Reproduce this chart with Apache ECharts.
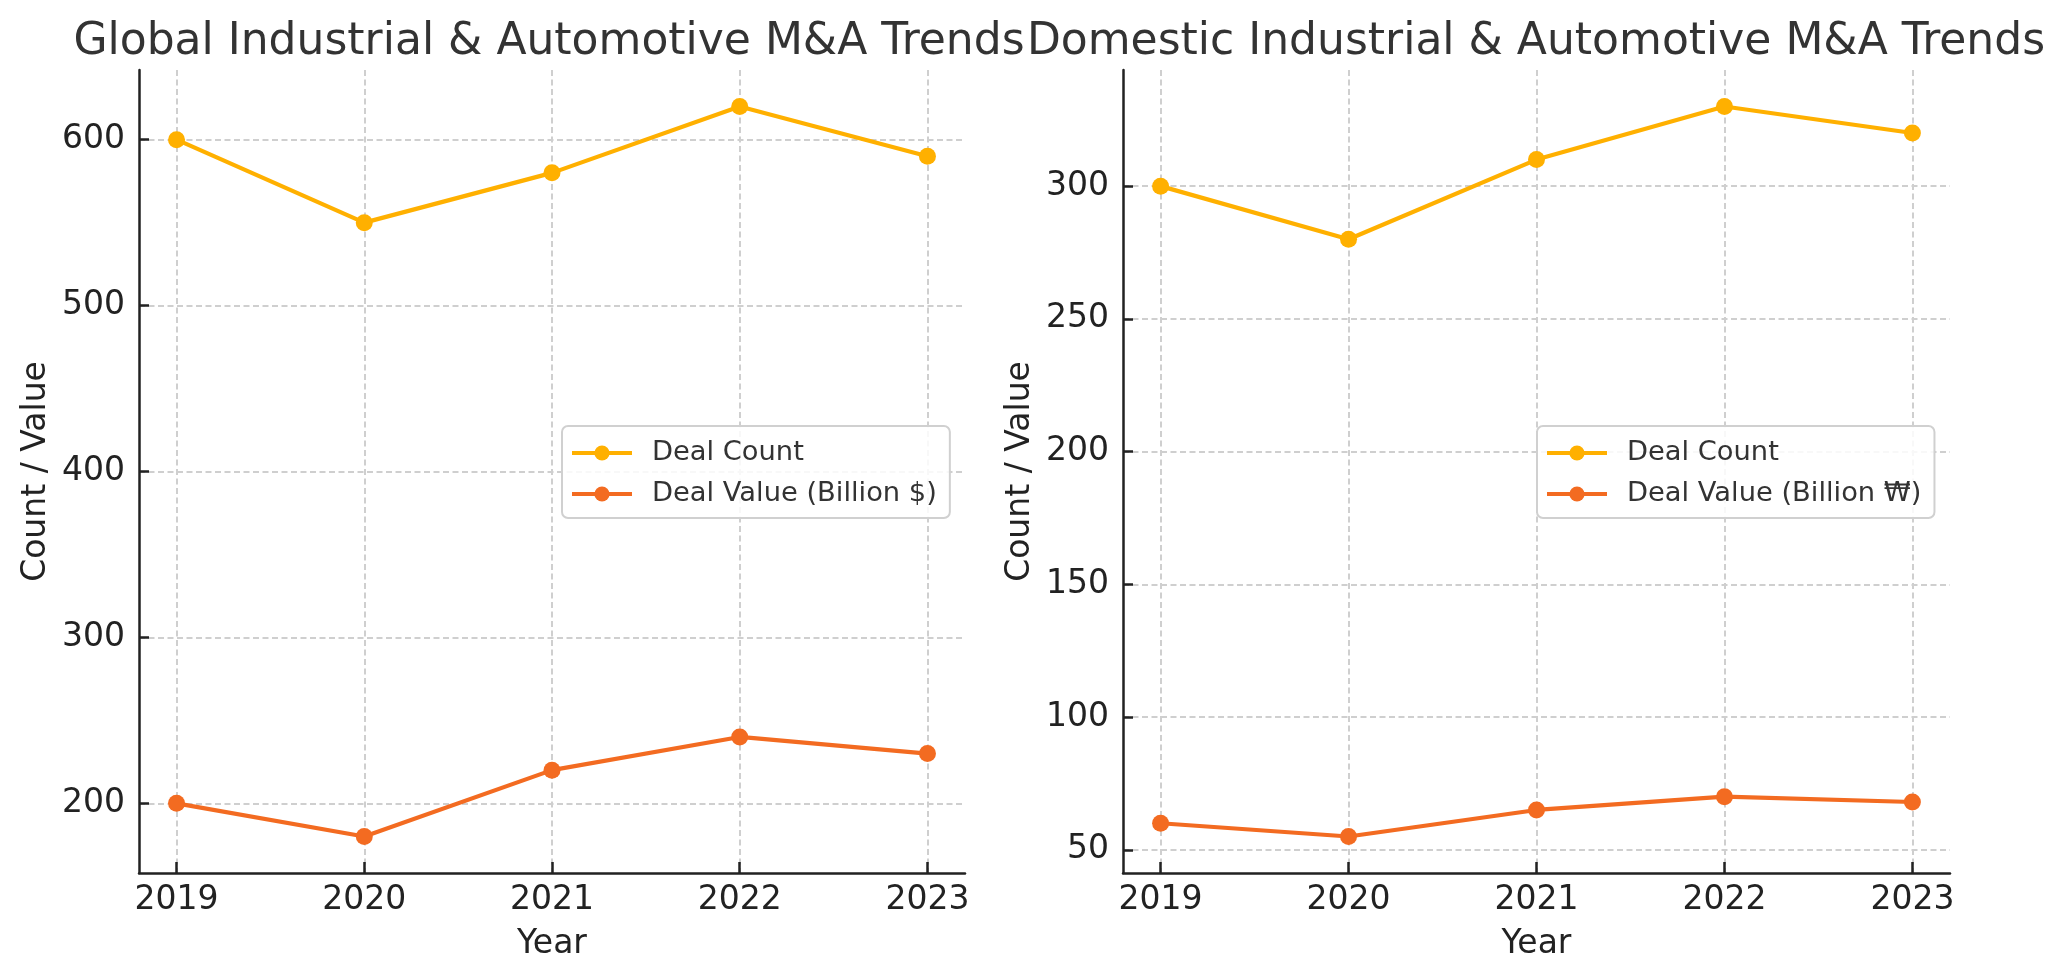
<!DOCTYPE html>
<html>
<head>
<meta charset="utf-8">
<script src="https://cdn.jsdelivr.net/npm/echarts@6/dist/echarts.min.js"></script>
<style>
html,body{margin:0;padding:0;background:#fff;}
#chart{width:2070px;height:980px;}
</style>
</head>
<body>
<div id="chart"></div>
<script>
const years = [2019, 2020, 2021, 2022, 2023];
const globalDealCount = [600, 550, 580, 620, 590];
const globalDealValue = [200, 180, 220, 240, 230];
const domesticDealCount = [300, 280, 310, 330, 320];
const domesticDealValue = [60, 55, 65, 70, 68];
const globalYTicks = [200, 300, 400, 500, 600];
const domesticYTicks = [50, 100, 150, 200, 250, 300];
const titles = ['Global Industrial & Automotive M&A Trends', 'Domestic Industrial & Automotive M&A Trends'];
const countName = 'Deal Count';
const globalValueName = 'Deal Value (Billion $)';
const domesticValueName = 'Deal Value (Billion ₩)';

const COUNT_COLOR = '#FFB000';
const VALUE_COLOR = '#F36B21';
const FONT = 'DejaVu Sans';

function pairs(vals) { return years.map((y, i) => [y, vals[i]]); }
function pad(vals) { const mn = Math.min(...vals), mx = Math.max(...vals); const p = (mx - mn) * 0.05; return [mn - p, mx + p]; }

const xr = pad(years);
const gy = pad(globalDealCount.concat(globalDealValue));
const dy = pad(domesticDealCount.concat(domesticDealValue));

const grids = [
  { left: 139, top: 70, width: 826, height: 803 },
  { left: 1123, top: 70, width: 827, height: 803 }
];
const GRID_LINE = { color: '#cfcfcf', width: 2, type: [6, 3.5] };

function xAxis(gi) {
  return {
    type: 'value', gridIndex: gi, min: xr[0], max: xr[1],
    name: 'Year', nameLocation: 'middle', nameGap: 55,
    nameTextStyle: { fontFamily: FONT, fontSize: 33, color: '#222' },
    axisLine: { show: true, lineStyle: { color: '#222', width: 2.5 } },
    axisTick: { show: true, inside: true, length: 11, customValues: years, lineStyle: { color: '#222', width: 2.5 } },
    axisLabel: { customValues: years, margin: 11, fontFamily: FONT, fontSize: 33, color: '#222', formatter: v => String(v) },
    splitLine: { show: true, lineStyle: GRID_LINE }
  };
}
function yAxis(gi, rng, ticks) {
  return {
    type: 'value', gridIndex: gi, min: rng[0], max: rng[1],
    name: 'Count / Value', nameLocation: 'middle', nameGap: 86, nameRotate: 90,
    nameTextStyle: { fontFamily: FONT, fontSize: 33, color: '#222' },
    axisLine: { show: true, lineStyle: { color: '#222', width: 2.5 } },
    axisTick: { show: true, inside: true, length: 10, customValues: ticks, lineStyle: { color: '#222', width: 2.5 } },
    axisLabel: { customValues: ticks, margin: 14, fontFamily: FONT, fontSize: 33, color: '#222' },
    splitLine: { show: true, lineStyle: GRID_LINE }
  };
}
function series(name, gi, vals, color) {
  return {
    type: 'line', name: name, xAxisIndex: gi, yAxisIndex: gi, data: pairs(vals),
    symbol: 'circle', symbolSize: 17, showSymbol: true,
    lineStyle: { color: color, width: 4.2 }, itemStyle: { color: color },
    emphasis: { disabled: true }, animation: false, z: 3
  };
}
function legend(left, names) {
  return {
    show: true, orient: 'vertical', left: left, top: 426, data: names,
    itemWidth: 60, itemHeight: 19, itemGap: 13,
    padding: [13, 13, 10, 8],
    borderColor: '#d0d0d0', borderWidth: 2, borderRadius: 6,
    backgroundColor: 'rgba(255,255,255,0.85)',
    lineStyle: { width: 4 },
    textStyle: { fontFamily: FONT, fontSize: 27.3, color: '#333', lineHeight: 28, padding: [0, 0, 0, 15] },
    selectedMode: false
  };
}

const chart = echarts.init(document.getElementById('chart'), null, { renderer: 'canvas' });
chart.setOption({
  backgroundColor: '#ffffff',
  animation: false,
  title: [
    { text: titles[0], left: 549, top: 21, textAlign: 'center', padding: 0,
      textStyle: { fontFamily: FONT, fontSize: 44, fontWeight: 'normal', color: '#333' } },
    { text: titles[1], left: 1536, top: 21, textAlign: 'center', padding: 0,
      textStyle: { fontFamily: FONT, fontSize: 44, fontWeight: 'normal', color: '#333' } }
  ],
  grid: grids,
  xAxis: [xAxis(0), xAxis(1)],
  yAxis: [yAxis(0, gy, globalYTicks), yAxis(1, dy, domesticYTicks)],
  legend: [legend(562, [countName, globalValueName]), legend(1537, [countName, domesticValueName])],
  series: [
    series(countName, 0, globalDealCount, COUNT_COLOR),
    series(globalValueName, 0, globalDealValue, VALUE_COLOR),
    series(countName, 1, domesticDealCount, COUNT_COLOR),
    series(domesticValueName, 1, domesticDealValue, VALUE_COLOR)
  ]
});
</script>
</body>
</html>
